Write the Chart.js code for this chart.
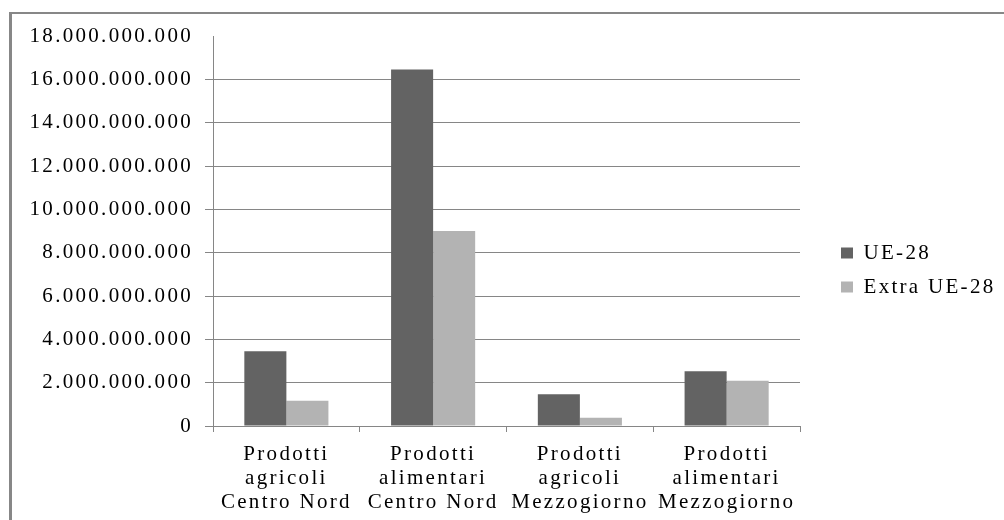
<!DOCTYPE html>
<html lang="it">
<head>
<meta charset="utf-8">
<title>Esportazioni agroalimentari</title>
<script src="https://cdn.jsdelivr.net/npm/chart.js@4/dist/chart.umd.min.js"></script>
<style>
  html, body { margin: 0; padding: 0; background: #fff; overflow: hidden; }
  #frame {
    position: absolute; left: 9px; top: 12px; width: 1000px; height: 520px;
    border-left: 3px solid #878787; border-top: 2px solid #878787;
  }
  #wrap { position: absolute; left: 0; top: 0; width: 1004px; height: 520px; }
</style>
</head>
<body>
<div id="frame"></div>
<div id="wrap"><canvas id="chart"></canvas></div>
<script>
// Categorie e valori (euro)
const categorie = [
  ['Prodotti', 'agricoli', 'Centro Nord'],
  ['Prodotti', 'alimentari', 'Centro Nord'],
  ['Prodotti', 'agricoli', 'Mezzogiorno'],
  ['Prodotti', 'alimentari', 'Mezzogiorno']
];
const ue28 = [3450000000, 16450000000, 1470000000, 2530000000];
const extraUe28 = [1170000000, 9000000000, 380000000, 2090000000];
const yMax = 18000000000;
const yStep = 2000000000;

const grigio = '#868686';
const serif = '"Liberation Serif", "Times New Roman", serif';

// spaziatura del testo sul canvas (il canvas la perde ad ogni resize)
const spacing = {
  id: 'spacing',
  beforeUpdate(chart) { chart.ctx.letterSpacing = '2.3px'; },
  beforeDraw(chart) { chart.ctx.letterSpacing = '2.3px'; },
  beforeInit(chart) {
    const fit = chart.legend.fit;
    chart.legend.fit = function () {
      fit.call(this);
      this.width = 204;
    };
  },
  afterLayout(chart) {
    chart.legend.left += 28;
    chart.legend.top -= 8;
    chart.legend.bottom -= 8;
  }
};

function disegna() {
  Chart.defaults.font.family = serif;
  Chart.defaults.font.size = 21;
  Chart.defaults.color = '#000';

  new Chart(document.getElementById('chart'), {
    type: 'bar',
    data: {
      labels: categorie,
      datasets: [
        {
          label: 'UE-28',
          data: ue28,
          backgroundColor: '#636363'
        },
        {
          label: 'Extra UE-28',
          data: extraUe28,
          backgroundColor: '#b3b3b3'
        }
      ]
    },
    options: {
      responsive: true,
      maintainAspectRatio: false,
      animation: false,
      categoryPercentage: 0.573,
      barPercentage: 1,
      layout: { padding: { top: 36, right: 0, bottom: 0, left: 0 } },
      plugins: {
        tooltip: { enabled: false },
        legend: {
          position: 'right',
          labels: {
            boxWidth: 12,
            boxHeight: 11,
            padding: 13,
            font: { size: 21, family: serif, lineHeight: 1.15 },
            color: '#000'
          }
        }
      },
      scales: {
        x: {
          grid: {
            offset: true,
            drawOnChartArea: false,
            tickLength: 6,
            color: grigio
          },
          border: { color: grigio, width: 1 },
          ticks: {
            padding: 10,
            maxRotation: 0,
            autoSkip: false,
            font: { size: 21, family: serif, lineHeight: 1.15 }
          },
          afterFit(scale) { scale.height = 94; }
        },
        y: {
          min: 0,
          max: yMax,
          grid: {
            tickLength: 8,
            color: ctx => (ctx.tick && ctx.tick.value === yMax) ? 'rgba(0,0,0,0)' : grigio
          },
          border: { color: grigio, width: 1 },
          ticks: {
            stepSize: yStep,
            padding: 12,
            font: { size: 21, family: serif },
            callback: v => v.toLocaleString('it-IT').replace(/[\u00a0,]/g, '.')
          },
          afterFit(scale) { scale.width = 213; }
        }
      }
    },
    plugins: [spacing]
  });
}

document.fonts.load('21px "Liberation Serif"').then(disegna, disegna);
</script>
</body>
</html>
